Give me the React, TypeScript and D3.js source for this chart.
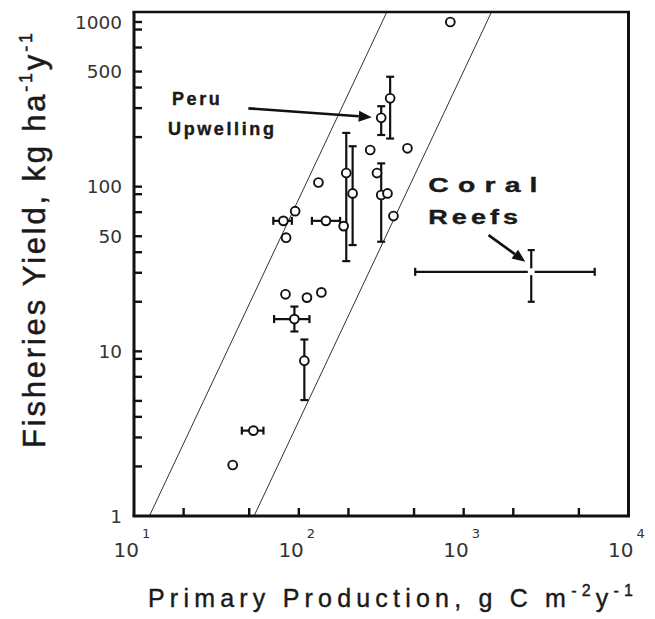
import React from 'react';
import * as d3 from 'd3';

const W = 655;
const H = 619;

// ---- data ----
const production = [830, 316, 358, 271, 456, 194, 212, 187, 146, 131.5, 298, 316, 345, 375, 95, 80.6, 83.7, 83, 112, 137, 94, 108, 53, 39.7];
const fishYield = [1000, 262, 344, 167, 171, 121, 91, 57.6, 62, 106, 121, 89, 91, 66.3, 71, 62, 49, 22.2, 21.2, 22.8, 15.7, 8.77, 3.3, 2.04];
// [point index, low, high]
const yieldErrorBars: [number, number, number][] = [
  [1, 206, 308], [2, 196, 465], [5, 35.3, 212], [6, 44.2, 176], [11, 46.3, 138.5], [20, 13.2, 18.7], [21, 5.06, 11.8],
];
const productionErrorBars: [number, number, number][] = [
  [8, 120, 178], [15, 70, 90.7], [20, 70.8, 116], [22, 45.1, 61],
];
const coralProduction = [2570, 508, 6240]; // value, low, high
const coralYield = [30.4, 20, 41.2];
// ratio lines: production at yield = 1 and at yield = 1150
const ratioLineProductionAtBottom = [12.4, 53.5];
const ratioLineProductionAtTop = [342, 1475];
const ratioLineYield = [1, 1150];

const xDomain = [10, 10000];
const yDomain = [1, 1000];
const yTopValue = 1150;
const xMinorTicks = [20, 50, 100, 200, 500, 1000, 2000, 5000];
const xMajorTicks = [10, 100, 1000, 10000];
const xExponents = ['1', '2', '3', '4'];
const yMinorTicks = [2, 3, 4, 5, 7, 9, 10, 20, 30, 40, 50, 70, 90, 100, 200, 300, 400, 500, 700, 900, 1000];
const yTickLabels = [1, 10, 50, 100, 500, 1000];

// annotations (data coordinates)
const peruLabel = [['Peru', 17.0, 313], ['Upwelling', 16.1, 206]] as [string, number, number][];
const peruArrow = [[49.4, 299], [277, 264]];
const coralLabel = [['Coral', 610, 92.7], ['Reefs', 610, 59.3]] as [string, number, number][];
const coralArrow = [[1416, 50.8], [2366, 35.0]];

const SANS = 'Liberation Sans, Arial, Helvetica, sans-serif';
const DEJAVU = 'DejaVu Sans, Verdana, sans-serif';

function Arrow({ x1, y1, x2, y2 }: { x1: number; y1: number; x2: number; y2: number }) {
  const a = Math.atan2(y2 - y1, x2 - x1);
  const len = 13, hw = 5.5;
  const bx = x2 - len * Math.cos(a), by = y2 - len * Math.sin(a);
  const p1 = [bx + hw * Math.sin(a), by - hw * Math.cos(a)];
  const p2 = [bx - hw * Math.sin(a), by + hw * Math.cos(a)];
  return (
    <g>
      <line x1={x1} y1={y1} x2={bx} y2={by} stroke="#111" strokeWidth={2.6} />
      <polygon points={`${x2},${y2} ${p1[0]},${p1[1]} ${p2[0]},${p2[1]}`} fill="#111" />
    </g>
  );
}

export default function App() {
  const x = d3.scaleLog().domain(xDomain).range([134, 628.5]);
  const y = d3.scaleLog().domain(yDomain).range([516, 22]);
  const left = x(xDomain[0]);
  const right = x(xDomain[1]);
  const bottom = y(yDomain[0]);
  const top = y(yTopValue);
  const tickLen = 8;
  const cap = 4;

  return (
    <svg width={W} height={H} style={{ position: 'absolute', left: 0, top: 0, background: '#fff' }}>
      <rect x={0} y={0} width={W} height={H} fill="#fff" />
      <defs>
        <clipPath id="plot">
          <rect x={left} y={top} width={right - left} height={bottom - top} />
        </clipPath>
      </defs>

      {/* ratio lines */}
      <g clipPath="url(#plot)">
        {ratioLineProductionAtBottom.map((p, i) => (
          <line key={i} x1={x(p)} y1={y(ratioLineYield[0])} x2={x(ratioLineProductionAtTop[i])} y2={y(ratioLineYield[1])}
            stroke="#333" strokeWidth={1} />
        ))}
      </g>

      {/* vertical error bars */}
      {yieldErrorBars.map(([i, lo, hi], k) => {
        const cx = x(production[i]);
        return (
          <g key={'ye' + k} stroke="#111" strokeWidth={2.2}>
            <line x1={cx} x2={cx} y1={y(lo)} y2={y(hi)} />
            <line x1={cx - cap} x2={cx + cap} y1={y(lo)} y2={y(lo)} />
            <line x1={cx - cap} x2={cx + cap} y1={y(hi)} y2={y(hi)} />
          </g>
        );
      })}
      {/* horizontal error bars */}
      {productionErrorBars.map(([i, lo, hi], k) => {
        const cy = y(fishYield[i]);
        return (
          <g key={'xe' + k} stroke="#111" strokeWidth={2.2}>
            <line x1={x(lo)} x2={x(hi)} y1={cy} y2={cy} />
            <line x1={x(lo)} x2={x(lo)} y1={cy - cap} y2={cy + cap} />
            <line x1={x(hi)} x2={x(hi)} y1={cy - cap} y2={cy + cap} />
          </g>
        );
      })}

      {/* points */}
      {production.map((p, i) => (
        <circle key={'pt' + i} cx={x(p)} cy={y(fishYield[i])} r={4.4} fill="#fff" stroke="#111" strokeWidth={1.9} />
      ))}

      {/* coral reefs cross */}
      <g stroke="#111" strokeWidth={2.2}>
        <line x1={x(coralProduction[1])} x2={x(coralProduction[2])} y1={y(coralYield[0])} y2={y(coralYield[0])} />
        <line x1={x(coralProduction[1])} x2={x(coralProduction[1])} y1={y(coralYield[0]) - cap} y2={y(coralYield[0]) + cap} />
        <line x1={x(coralProduction[2])} x2={x(coralProduction[2])} y1={y(coralYield[0]) - cap} y2={y(coralYield[0]) + cap} />
        <line x1={x(coralProduction[0])} x2={x(coralProduction[0])} y1={y(coralYield[1])} y2={y(coralYield[2])} />
        <line x1={x(coralProduction[0]) - 3.5} x2={x(coralProduction[0]) + 3.5} y1={y(coralYield[1])} y2={y(coralYield[1])} />
        <line x1={x(coralProduction[0]) - 3.5} x2={x(coralProduction[0]) + 3.5} y1={y(coralYield[2])} y2={y(coralYield[2])} />
      </g>
      <circle cx={x(coralProduction[0])} cy={y(coralYield[0])} r={3.5} fill="#fff" />

      {/* frame */}
      <g stroke="#111" fill="none">
        <line x1={left} x2={left} y1={top} y2={bottom} strokeWidth={3} />
        <line x1={left - 1.5} x2={right + 1.5} y1={bottom} y2={bottom} strokeWidth={3} />
        <line x1={left - 1.5} x2={right + 1.5} y1={top} y2={top} strokeWidth={2.6} />
        <line x1={right} x2={right} y1={top} y2={bottom} strokeWidth={3} />
      </g>

      {/* ticks */}
      <g stroke="#111" strokeWidth={2.4}>
        {yMinorTicks.map((t) => (
          <line key={'yt' + t} x1={left} x2={left + tickLen} y1={y(t)} y2={y(t)} />
        ))}
        {xMinorTicks.map((t) => (
          <line key={'xt' + t} x1={x(t)} x2={x(t)} y1={bottom} y2={bottom - tickLen} />
        ))}
      </g>

      {/* y tick labels */}
      <g fontFamily={DEJAVU} fontSize={18.5} fill="#333" textAnchor="end">
        {yTickLabels.map((t) => (
          <text key={'yl' + t} x={122} y={y(t) + 6.5}>{t}</text>
        ))}
      </g>
      {/* x tick labels */}
      <g fontFamily={DEJAVU} fill="#333">
        {xMajorTicks.map((t, i) => (
          <g key={'xl' + t}>
            <text x={x(t) + 5} y={557} fontSize={20} textAnchor="end">10</text>
            <text x={x(t) + 8} y={538} fontSize={13}>{xExponents[i]}</text>
          </g>
        ))}
      </g>

      {/* axis titles */}
      <text x={148} y={607} fontFamily={SANS} fontSize={25} letterSpacing={5.2} fill="#1a1a1a" stroke="#1a1a1a" strokeWidth={0.4}>
        Primary Production, g C m<tspan fontSize={16} dy={-11}>-2</tspan><tspan dy={11}>y</tspan><tspan fontSize={16} dy={-11}>-1</tspan>
      </text>
      <text transform="translate(45,448) rotate(-90)" fontFamily={SANS} fontSize={31} letterSpacing={2.8} fill="#1a1a1a" stroke="#1a1a1a" strokeWidth={0.5}>
        Fisheries Yield, kg ha<tspan fontSize={18} dy={-13}>-1</tspan><tspan dy={13}>y</tspan><tspan fontSize={18} dy={-13}>-1</tspan>
      </text>

      {/* annotations */}
      <g fontFamily={SANS} fontWeight="bold" fontSize={18} letterSpacing={2.6} fill="#1a1a1a" stroke="#1a1a1a" strokeWidth={0.4}>
        {peruLabel.map(([s, px, py]) => (
          <text key={s} x={x(px)} y={y(py)}>{s}</text>
        ))}
      </g>
      <Arrow x1={x(peruArrow[0][0])} y1={y(peruArrow[0][1])} x2={x(peruArrow[1][0])} y2={y(peruArrow[1][1])} />
      <g fontFamily={SANS} fontWeight="bold" fill="#1a1a1a" stroke="#1a1a1a" strokeWidth={0.4}>
        {coralLabel.map(([s, px, py], i) => (
          <text key={s} transform={`translate(${x(px)},${y(py)}) scale(1.35,1)`} fontSize={i === 0 ? 21 : 20}
            letterSpacing={i === 0 ? 6.8 : 3}>{s}</text>
        ))}
      </g>
      <Arrow x1={x(coralArrow[0][0])} y1={y(coralArrow[0][1])} x2={x(coralArrow[1][0])} y2={y(coralArrow[1][1])} />
    </svg>
  );
}
